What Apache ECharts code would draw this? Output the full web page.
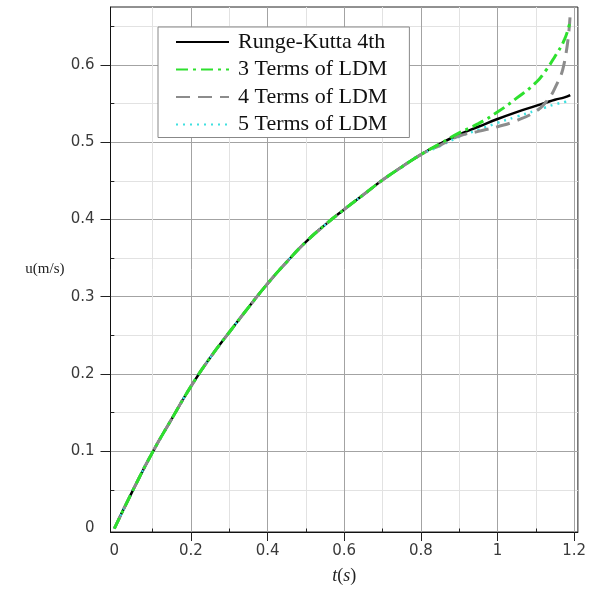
<!DOCTYPE html>
<html><head><meta charset="utf-8">
<script src="https://cdn.jsdelivr.net/npm/echarts@6/dist/echarts.min.js"></script>
<style>html,body{margin:0;padding:0;background:#fff}#c{width:589px;height:590px}</style>
</head><body><div id="c"></div>
<script>
const tValues = [0, 0.05, 0.1, 0.15, 0.2, 0.25, 0.3, 0.35, 0.4, 0.45, 0.5, 0.55, 0.6, 0.65, 0.7, 0.75, 0.8, 0.85, 0.9, 0.95, 1.0, 1.05, 1.1, 1.125, 1.15, 1.175, 1.19];
const rk4 =    [0, 0.051, 0.099, 0.142, 0.184, 0.221, 0.254, 0.286, 0.317, 0.345, 0.371, 0.393, 0.413, 0.432, 0.451, 0.468, 0.484, 0.498, 0.510, 0.520, 0.530, 0.539, 0.547, 0.551, 0.555, 0.558, 0.561];
const ldm3 =   [0, 0.051, 0.099, 0.142, 0.184, 0.221, 0.254, 0.286, 0.317, 0.345, 0.371, 0.393, 0.413, 0.432, 0.451, 0.468, 0.484, 0.498, 0.512, 0.524, 0.539, 0.557, 0.577, 0.592, 0.611, 0.633, 0.657];
const ldm4 =   [0, 0.051, 0.099, 0.142, 0.184, 0.221, 0.254, 0.286, 0.317, 0.345, 0.371, 0.393, 0.413, 0.432, 0.451, 0.468, 0.484, 0.496, 0.508, 0.514, 0.520, 0.528, 0.540, 0.551, 0.570, 0.604, 0.668];
const ldm5 =   [0, 0.051, 0.099, 0.142, 0.184, 0.221, 0.254, 0.286, 0.317, 0.345, 0.371, 0.393, 0.413, 0.432, 0.451, 0.468, 0.484, 0.495, 0.507, 0.516, 0.525, 0.533, 0.541, 0.545, 0.549, 0.552, 0.554];
const seriesNames = ['Runge-Kutta 4th', '3 Terms of LDM', '4 Terms of LDM', '5 Terms of LDM'];
const xLabelValues = [0, 0.2, 0.4, 0.6, 0.8, 1, 1.2];
const xMajorTicks = [0.2, 0.4, 0.6, 0.8, 1, 1.2];
const xMinorTicks = [0.1, 0.3, 0.5, 0.7, 0.9, 1.1];
const yLabelValues = [0, 0.1, 0.2, 0.3, 0.4, 0.5, 0.6];
const yMajorTicks = [0.1, 0.2, 0.3, 0.4, 0.5, 0.6];
const yMinorTicks = [0.05, 0.15, 0.25, 0.35, 0.45, 0.55, 0.65];

const pairs = arr => tValues.map((t, i) => [t, arr[i]]);
const labelFont = {fontFamily: 'DejaVu Sans', fontSize: 15, color: '#3a3a3a'};
const X_MIN = -0.01, X_MAX = 1.21, Y_MIN = -0.0045, Y_MAX = 0.675;

const chart = echarts.init(document.getElementById('c'), null, {renderer: 'canvas'});
chart.setOption({
  animation: false,
  backgroundColor: '#fff',
  grid: {left: 110.5, right: 9, top: 7, bottom: 53.5, show: true, borderColor: '#222', borderWidth: 1, backgroundColor: 'transparent'},
  legend: {
    orient: 'vertical', left: 158, top: 27,
    data: seriesNames,
    backgroundColor: '#fff', borderColor: '#888', borderWidth: 1,
    padding: [4, 22, 2, 17],
    itemWidth: 53, itemHeight: 14, itemGap: 5.5,
    itemStyle: {opacity: 0},
    textStyle: {fontFamily: 'Liberation Serif', fontSize: 22, color: '#111', lineHeight: 22, padding: [0, 0, 0, 4]},
    inactiveColor: '#111'
  },
  xAxis: [
    {type: 'value', min: X_MIN, max: X_MAX, position: 'bottom',
     axisLine: {show: false}, axisLabel: {show: false},
     axisTick: {show: true, customValues: xMinorTicks, length: 4, lineStyle: {color: '#222'}},
     splitLine: {show: true, lineStyle: {color: '#e2e2e2', width: 1}}},
    {type: 'value', min: X_MIN, max: X_MAX, position: 'bottom',
     name: '{i|t}({i|s})', nameLocation: 'middle', nameGap: 35,
     nameTextStyle: {fontFamily: 'Liberation Serif', fontSize: 18, color: '#222',
       rich: {i: {fontFamily: 'Liberation Serif', fontStyle: 'italic', fontSize: 18, color: '#222'}}},
     axisLine: {show: true, onZero: false, lineStyle: {color: '#111', width: 1}},
     axisTick: {show: true, customValues: xMajorTicks, length: 9, lineStyle: {color: '#222'}},
     axisLabel: Object.assign({customValues: xLabelValues, margin: 12, hideOverlap: false, formatter: v => String(+v.toFixed(2))}, labelFont),
     splitLine: {show: true, lineStyle: {color: '#a3a3a3', width: 1}}}
  ],
  yAxis: [
    {type: 'value', min: Y_MIN, max: Y_MAX, position: 'left',
     axisLine: {show: false}, axisLabel: {show: false},
     axisTick: {show: true, customValues: yMinorTicks, length: 4, lineStyle: {color: '#222'}},
     splitLine: {show: true, lineStyle: {color: '#e2e2e2', width: 1}}},
    {type: 'value', min: Y_MIN, max: Y_MAX, position: 'left',
     name: 'u(m/s)', nameLocation: 'middle', nameGap: 46, nameRotate: 0,
     nameTextStyle: {fontFamily: 'Liberation Serif', fontSize: 15, color: '#222'},
     axisLine: {show: true, onZero: false, lineStyle: {color: '#111', width: 1}},
     axisTick: {show: true, customValues: yMajorTicks, length: 10, lineStyle: {color: '#222'}},
     axisLabel: Object.assign({customValues: yLabelValues, margin: 16, hideOverlap: false, verticalAlignMinLabel: 'middle', formatter: v => String(+v.toFixed(2))}, labelFont),
     splitLine: {show: true, lineStyle: {color: '#a3a3a3', width: 1}}}
  ],
  series: [
    {name: seriesNames[0], type: 'line', xAxisIndex: 1, yAxisIndex: 1, data: pairs(rk4), smooth: true, symbol: 'none', z: 2,
     lineStyle: {color: '#000', width: 2.5}, itemStyle: {color: '#000'}},
    {name: seriesNames[3], type: 'line', xAxisIndex: 1, yAxisIndex: 1, data: pairs(ldm5), smooth: true, symbol: 'none', z: 3,
     lineStyle: {color: '#3fe0e0', width: 2.5, type: [2, 5]}, itemStyle: {color: '#3fe0e0'}},
    {name: seriesNames[2], type: 'line', xAxisIndex: 1, yAxisIndex: 1, data: pairs(ldm4), smooth: true, symbol: 'none', z: 4,
     lineStyle: {color: '#8c8c8c', width: 3, type: [14, 8]}, itemStyle: {color: '#8c8c8c'}},
    {name: seriesNames[1], type: 'line', xAxisIndex: 1, yAxisIndex: 1, data: pairs(ldm3), smooth: true, symbol: 'none', z: 5,
     lineStyle: {color: '#2ee02e', width: 3, type: [12, 5, 3, 5]}, itemStyle: {color: '#2ee02e'}}
  ]
});
</script></body></html>
